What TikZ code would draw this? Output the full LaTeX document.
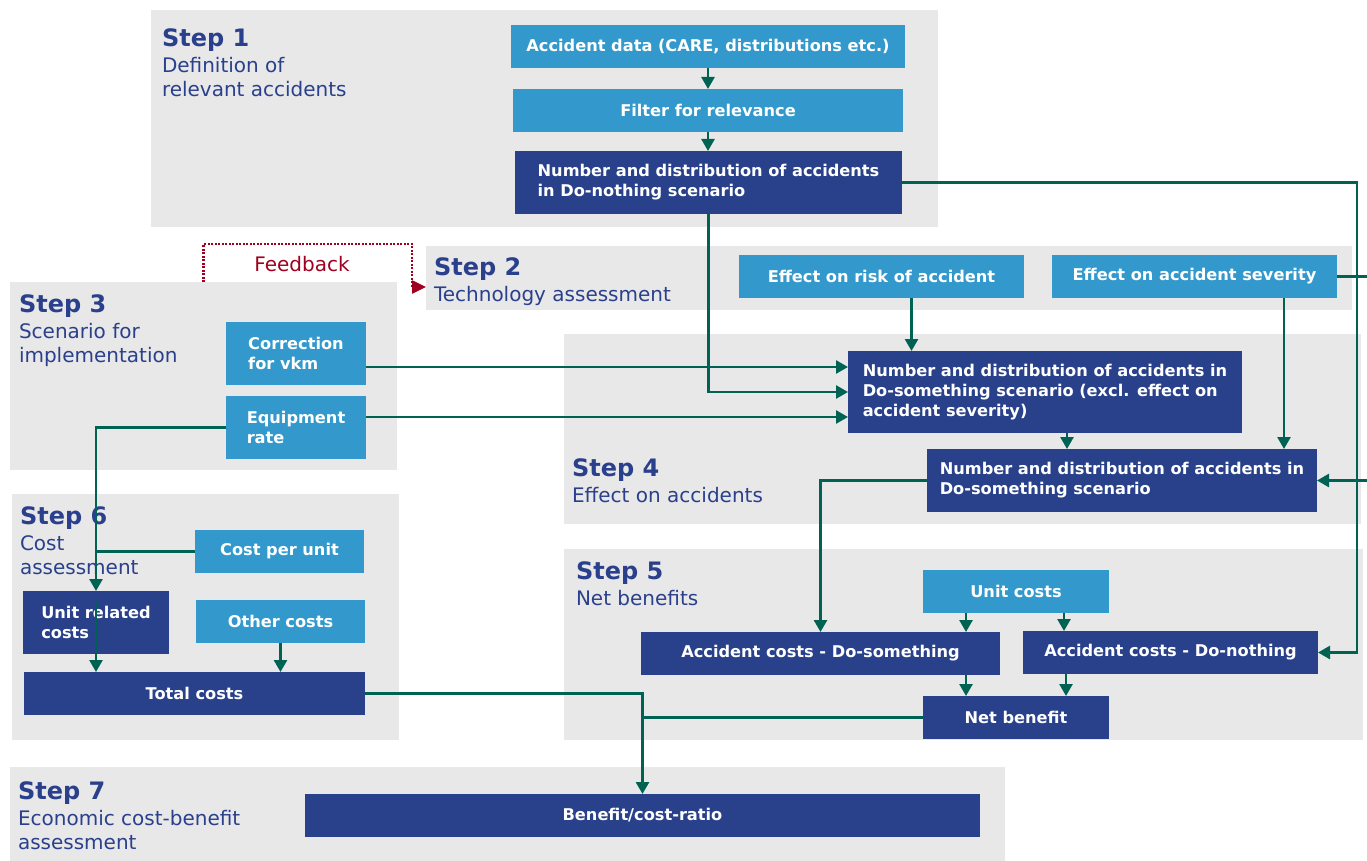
\documentclass[tikz,border=0pt]{standalone}
\usepackage{fontspec}
\setmainfont{DejaVu Sans}
\usetikzlibrary{arrows.meta,positioning}
\definecolor{panelgray}{RGB}{232,232,232}
\definecolor{lightbox}{RGB}{51,153,204}
\definecolor{darkbox}{RGB}{41,65,139}
\definecolor{linkgreen}{RGB}{0,98,82}
\definecolor{headblue}{RGB}{42,64,140}
\definecolor{feedred}{RGB}{160,0,32}

\begin{document}
\begin{tikzpicture}[
  x=1pt,
  y=-1pt,
  every node/.style={inner sep=0pt, outer sep=0pt},
  panel/.style={fill=panelgray},
  steptext/.style={
    anchor=north west,
    align=left,
    text=headblue,
    font=\fontsize{20}{23.5}\selectfont
  },
  light/.style={
    fill=lightbox,
    text=white,
    align=left,
    font=\bfseries\fontsize{16.2}{20}\selectfont
  },
  dark/.style={light, fill=darkbox},
  link/.style={line width=2.6pt, draw=linkgreen},
  arrow/.style={link, -{Triangle[width=13pt,length=12pt]}},
  feedback/.style={
    line width=2.5pt,
    draw=feedred,
    dash pattern=on 2pt off 1.5pt,
    -{Triangle[width=13pt,length=14pt]}
  }
]
\useasboundingbox (0,0) rectangle (1367,861);

% step panels
\node[panel, minimum width=787pt, minimum height=217pt] (p1) at (544.5,118.5) {};
\node[panel, minimum width=926pt, minimum height=64pt] (p2) at (889,278) {};
\node[panel, minimum width=387pt, minimum height=188pt] (p3) at (203.5,376) {};
\node[panel, minimum width=797pt, minimum height=190pt] (p4) at (962.5,429) {};
\node[panel, minimum width=799pt, minimum height=191pt] (p5) at (963.5,644.5) {};
\node[panel, minimum width=387pt, minimum height=246pt] (p6) at (205.5,617) {};
\node[panel, minimum width=995pt, minimum height=94pt] (p7) at (507.5,814) {};

\node[steptext] (s1) at (162,29) {{\fontsize{24}{24}\selectfont\bfseries Step 1}\\[2.5pt]Definition of\\relevant accidents};
\node[steptext] (s2) at (434,258) {{\fontsize{24}{24}\selectfont\bfseries Step 2}\\[2.5pt]Technology assessment};
\node[steptext] (s3) at (19,295) {{\fontsize{24}{24}\selectfont\bfseries Step 3}\\[2.5pt]Scenario for\\implementation};
\node[steptext] (s4) at (572,459) {{\fontsize{24}{24}\selectfont\bfseries Step 4}\\[2.5pt]Effect on accidents};
\node[steptext] (s5) at (576,562) {{\fontsize{24}{24}\selectfont\bfseries Step 5}\\[2.5pt]Net benefits};
\node[steptext] (s6) at (20,507) {{\fontsize{24}{24}\selectfont\bfseries Step 6}\\[2.5pt]Cost\\assessment};
\node[steptext] (s7) at (18,782) {{\fontsize{24}{24}\selectfont\bfseries Step 7}\\[2.5pt]Economic cost-benefit\\assessment};

% boxes
\node[light, minimum width=394pt, minimum height=43pt] (data) at (708,46.5) {Accident data (CARE, distributions etc.)};
\node[light, minimum width=390pt, minimum height=43pt] (filter) at (708,110.5) {Filter for relevance};
\node[dark, minimum width=387pt, minimum height=63pt] (dnoth) at (708.5,182.5) {Number and distribution of accidents\\in Do-nothing scenario};
\node[light, minimum width=285pt, minimum height=43pt] (risk) at (881.5,276.5) {Effect on risk of accident};
\node[light, minimum width=285pt, minimum height=43pt] (sev) at (1194.5,276.5) {Effect on accident severity};
\node[light, minimum width=140pt, minimum height=63pt] (vkm) at (296,353.5) {Correction\\for vkm};
\node[light, minimum width=140pt, minimum height=63pt] (equip) at (296,427.5) {Equipment\\rate};
\node[dark, minimum width=394pt, minimum height=82pt] (excl) at (1045,392) {Number and distribution of accidents in\\Do-something scenario (excl. effect on\\accident severity)};
\node[dark, minimum width=390pt, minimum height=63pt] (dsome) at (1122,480.5) {Number and distribution of accidents in\\Do-something scenario};
\node[light, minimum width=169pt, minimum height=43pt] (cpu) at (279.5,551.5) {Cost per unit};
\node[dark, minimum width=146pt, minimum height=63pt] (unitrel) at (96,622.5) {Unit related\\costs};
\node[light, minimum width=169pt, minimum height=43pt] (other) at (280.5,621.5) {Other costs};
\node[dark, minimum width=341pt, minimum height=43pt] (total) at (194.5,693.5) {Total costs};
\node[light, minimum width=186pt, minimum height=43pt] (unitc) at (1016,591.5) {Unit costs};
\node[dark, minimum width=359pt, minimum height=43pt] (acds) at (820.5,653.5) {Accident costs - Do-something};
\node[dark, minimum width=295pt, minimum height=43pt] (acdn) at (1170.5,652.5) {Accident costs - Do-nothing};
\node[dark, minimum width=186pt, minimum height=43pt] (net) at (1016,717.5) {Net benefit};
\node[dark, minimum width=675pt, minimum height=43pt] (bcr) at (642.5,815.5) {Benefit/cost-ratio};

\node[text=feedred, font=\fontsize{20}{23}\selectfont] (fbl) at (302,264) {Feedback};
\coordinate (rbus) at (1357,0);
\coordinate (redge) at (1367,0);

% connectors
\draw[arrow] (data) -- (filter);
\draw[arrow] (filter.south) -- (filter.south |- dnoth.north);
\draw[arrow] (dnoth.south) |- (excl.west);
\draw[arrow] (dnoth.east) -| (rbus |- acdn.east) -- (acdn.east);
\draw[link] (sev.east) -- (sev.east -| redge);
\draw[arrow] (redge |- dsome.east) -- (dsome.east);
\draw[arrow] ([xshift=30pt]risk.south) -- ([xshift=30pt]risk.south |- excl.north);
\draw[arrow] ([xshift=89.5pt]sev.south) -- ([xshift=89.5pt]sev.south |- dsome.north);
\draw[arrow] ([xshift=22pt]excl.south) -- ([xshift=22pt]excl.south |- dsome.north);
\draw[arrow] ([yshift=-13.5pt]vkm.east) -- ([yshift=-13.5pt]vkm.east -| excl.west);
\draw[arrow] ([yshift=10.5pt]equip.east) -- ([yshift=10.5pt]equip.east -| excl.west);
\draw[arrow] (equip.west) -| (unitrel.north);
\draw[link] (cpu.west) -- (cpu.west -| unitrel.north);
\draw[arrow] ([yshift=-10pt]unitrel.north) -- (unitrel.north |- total.north);
\draw[arrow] (other.south) -- (other.south |- total.north);
\draw[arrow] (total.east) -| (bcr.north);
\draw[link] (net.west) -- (net.west -| bcr.north);
\draw[arrow] (dsome.west) -| (acds.north);
\draw[arrow] ([xshift=-50pt]unitc.south) -- ([xshift=-50pt]unitc.south |- acds.north);
\draw[arrow] ([xshift=48pt]unitc.south) -- ([xshift=48pt]unitc.south |- acdn.north);
\draw[arrow] ([xshift=-50pt]net.north |- acds.south) -- ([xshift=-50pt]net.north);
\draw[arrow] ([xshift=50pt]net.north |- acdn.south) -- ([xshift=50pt]net.north);
\draw[feedback] (p3.north) -- ++(0,-38) -| ([xshift=-14pt,yshift=-9pt]p2.west) -- ([yshift=-9pt]p2.west);

\end{tikzpicture}
\end{document}
